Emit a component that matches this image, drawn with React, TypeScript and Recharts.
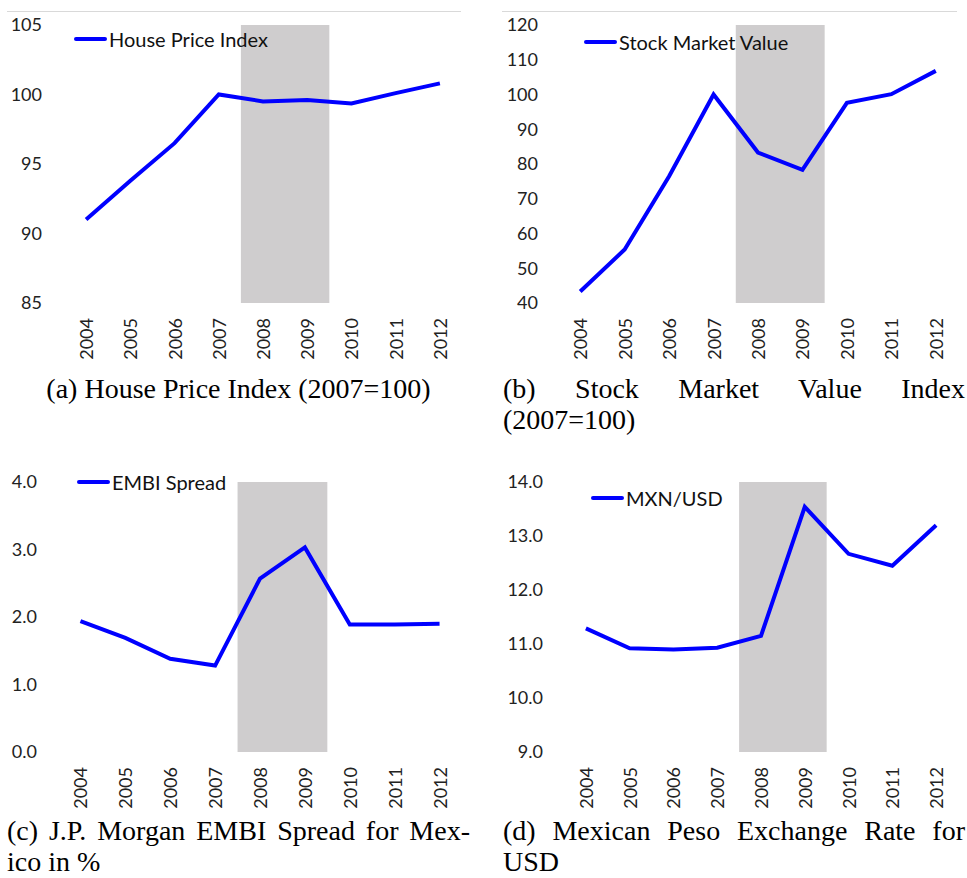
import { LineChart, Line, XAxis, YAxis, ReferenceArea } from 'recharts';

const years = [2004, 2005, 2006, 2007, 2008, 2009, 2010, 2011, 2012];
const housePrice = [91.0, 93.8, 96.5, 100.0, 99.5, 99.6, 99.35, 100.1, 100.8];
const stockValue = [43.3, 55.4, 76.5, 100.0, 83.3, 78.3, 97.6, 100.1, 106.8];
const embiSpread = [1.94, 1.69, 1.38, 1.28, 2.57, 3.03, 1.89, 1.89, 1.9];
const mxnUsd = [11.29, 10.92, 10.9, 10.93, 11.15, 13.54, 12.67, 12.45, 13.2];

const houseTicks = [85, 90, 95, 100, 105];
const stockTicks = [40, 50, 60, 70, 80, 90, 100, 110, 120];
const embiTicks = [0, 1, 2, 3, 4];
const mxnTicks = [9, 10, 11, 12, 13, 14];

const crisisStart = 2007.5;
const crisisEnd = 2009.5;

const LABEL_FONT = 'Lato, "Open Sans", sans-serif';
const CAPTION_FONT = '"Liberation Serif", "DejaVu Serif", serif';

const toRows = (values: number[]) => years.map((year, i) => ({ year, value: values[i] }));

function YearTick({ x, y, payload }: any) {
  return (
    <text
      x={x}
      y={y}
      transform={`rotate(-90, ${x}, ${y})`}
      textAnchor="end"
      dominantBaseline="central"
      fontSize={18}
      fontFamily={LABEL_FONT}
      fill="#222"
    >
      {payload.value}
    </text>
  );
}

type PanelProps = {
  left: number;
  top: number;
  width: number;
  height: number;
  marginTop: number;
  marginRight: number;
  yWidth: number;
  yGap: number;
  values: number[];
  ticks: number[];
  fmt?: (v: number) => string;
  legend: string;
  legendLeft: number;
  legendTop: number;
};

function Panel(p: PanelProps) {
  const data = toRows(p.values);
  return (
    <div style={{ position: 'absolute', left: p.left, top: p.top }}>
      <LineChart
        width={p.width}
        height={p.height}
        data={data}
        margin={{ top: p.marginTop, right: p.marginRight, bottom: 0, left: 0 }}
      >
        <XAxis
          dataKey="year"
          type="number"
          domain={[2003.5, 2012.5]}
          ticks={years}
          axisLine={false}
          tickLine={false}
          tickSize={0}
          tickMargin={15}
          height={67}
          interval={0}
          tick={<YearTick />}
        />
        <YAxis
          domain={[p.ticks[0], p.ticks[p.ticks.length - 1]]}
          ticks={p.ticks}
          width={p.yWidth}
          axisLine={false}
          tickLine={false}
          tickSize={0}
          tickMargin={p.yGap}
          tickFormatter={p.fmt}
          tick={{ fontSize: 18, fontFamily: LABEL_FONT, fill: '#222' }}
        />
        <ReferenceArea x1={crisisStart} x2={crisisEnd} fill="#cfcdce" fillOpacity={1} stroke="none" />
        <Line
          type="linear"
          dataKey="value"
          stroke="#0000ff"
          strokeWidth={4}
          dot={false}
          isAnimationActive={false}
        />
      </LineChart>
      <div
        style={{
          position: 'absolute',
          left: p.legendLeft,
          top: p.legendTop,
          display: 'flex',
          alignItems: 'center',
          fontFamily: LABEL_FONT,
          fontSize: 20,
          color: '#111',
          whiteSpace: 'nowrap',
        }}
      >
        <span style={{ display: 'inline-block', width: 33, height: 4, background: '#0000ff', borderRadius: 2, marginRight: 2 }} />
        {p.legend}
      </div>
    </div>
  );
}

function Caption({ left, top, width, lines, center }: { left: number; top: number; width: number; lines: string[]; center?: boolean }) {
  return (
    <div style={{ position: 'absolute', left, top, width, fontFamily: CAPTION_FONT, fontSize: 28, lineHeight: '31px', color: '#000' }}>
      {lines.map((line, i) => (
        <div
          key={i}
          style={{
            textAlign: center ? 'center' : i < lines.length - 1 ? 'justify' : 'left',
            textAlignLast: center ? 'center' : i < lines.length - 1 ? 'justify' : 'left',
            whiteSpace: 'nowrap',
          }}
        >
          {line}
        </div>
      ))}
    </div>
  );
}

export default function App() {
  return (
    <div style={{ position: 'absolute', left: 0, top: 0, width: 967, height: 878, background: '#fff', overflow: 'hidden' }}>
      <div style={{ position: 'absolute', left: 7, top: 11, width: 454, borderTop: '1px solid #d9d9d9' }} />
      <div style={{ position: 'absolute', left: 502, top: 11, width: 455, borderTop: '1px solid #d9d9d9' }} />

      <Panel
        left={0} top={0} width={470} height={370} marginTop={25} marginRight={8}
        yWidth={64} yGap={22} values={housePrice} ticks={houseTicks}
        legend="House Price Index" legendLeft={74} legendTop={27}
      />
      <Panel
        left={480} top={0} width={480} height={370} marginTop={25} marginRight={2}
        yWidth={78} yGap={20} values={stockValue} ticks={stockTicks}
        legend="Stock Market Value" legendLeft={104} legendTop={30}
      />
      <Panel
        left={0} top={440} width={470} height={379} marginTop={42} marginRight={8}
        yWidth={58} yGap={21} values={embiSpread} ticks={embiTicks} fmt={(v) => v.toFixed(1)}
        legend="EMBI Spread" legendLeft={77} legendTop={30}
      />
      <Panel
        left={480} top={440} width={480} height={379} marginTop={42} marginRight={2}
        yWidth={84} yGap={21} values={mxnUsd} ticks={mxnTicks} fmt={(v) => v.toFixed(1)}
        legend="MXN/USD" legendLeft={111} legendTop={46}
      />

      <Caption left={7} top={373} width={463} lines={['(a) House Price Index (2007=100)']} center />
      <Caption left={503} top={373} width={462} lines={['(b) Stock Market Value Index', '(2007=100)']} />
      <Caption left={7} top={815} width={463} lines={['(c) J.P. Morgan EMBI Spread for Mex-', 'ico in %']} />
      <Caption left={503} top={815} width={462} lines={['(d) Mexican Peso Exchange Rate for', 'USD']} />
    </div>
  );
}
